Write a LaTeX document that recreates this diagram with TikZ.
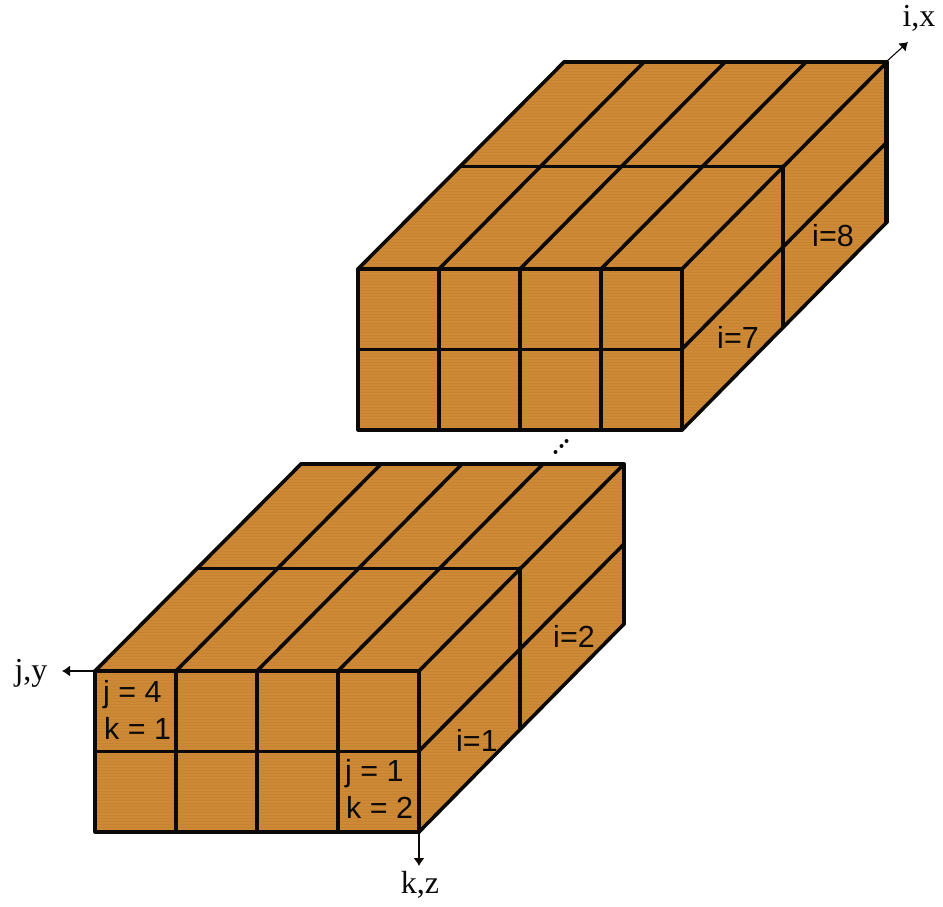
\documentclass[tikz,border=0pt]{standalone}
\usepackage{fontspec}
\setmainfont{Liberation Sans}
\newfontfamily\serifaxis{Liberation Serif}
\usetikzlibrary{arrows.meta}
\definecolor{wood}{RGB}{205,137,54}
\definecolor{woodline}{RGB}{188,122,46}
\definecolor{ink}{RGB}{12,10,8}
\tikzset{
  x=1pt,y=-1pt,
  grid/.style={draw=ink,line width=3.2pt,line cap=round,line join=round},
  slantgrid/.style={draw=ink,line width=3.6pt,line cap=round,line join=round},
  thingrid/.style={draw=ink,line width=3pt,line cap=round,line join=round},
  axisline/.style={draw=ink,line width=1.1pt,-{Latex[length=8pt,width=11pt]}},
  celllabel/.style={font=\fontsize{30.5}{33}\selectfont,text=ink,inner sep=0pt},
  axislabel/.style={font=\serifaxis\fontsize{32}{36}\selectfont,text=ink,inner sep=0pt},
}
% #1,#2 = front top-left corner of a block
\newcommand{\woodblock}[2]{%
  \begin{scope}[shift={(#1,#2)}]
    \begin{scope}
      \clip (0,0) -- (206,-207) -- (529,-207) -- (529,-47) -- (324,161) -- (0,161) -- cycle;
      \fill[wood] (-5,-215) rectangle (535,170);
      \foreach \yy in {-213,-210,...,168} {\draw[woodline,line width=0.5pt,opacity=0.4] (-5,\yy) -- (535,\yy);}
    \end{scope}
    \foreach \xx in {81,162,243} {\draw[grid] (\xx,0) -- (\xx,161);}
    \draw[thingrid] (0,80) -- (324,80);
    \draw[grid] (0,0) rectangle (324,161);
    \draw[slantgrid] (0,0) -- (206,-207);
    \draw[grid] (206,-207) -- (529,-207) -- (529,-47);
    \draw[slantgrid] (529,-47) -- (324,161);
    \foreach \xx in {81,162,243,324} {\draw[slantgrid] (\xx,0) -- (\xx+205,-207);}
    \draw[slantgrid] (324,80) -- (529,-127);
    \draw[thingrid] (103,-103) -- (425,-103);
    \draw[grid] (425,-103) -- (425,58);
  \end{scope}}
\begin{document}
\begin{tikzpicture}
\useasboundingbox (0,0) rectangle (943,906);
\woodblock{358}{269}
\woodblock{95}{671}
\draw[ink,line width=4.2pt] (886,62) -- (886,222);
% axes
\coordinate (xstart) at (886,62);
\coordinate (xend) at (908,42);
\coordinate (ystart) at (95,671);
\coordinate (yend) at (62,671);
\coordinate (zstart) at (419,832);
\coordinate (zend) at (419,866);
\draw[axisline] (xstart) -- (xend);
\draw[axisline] (ystart) -- (yend);
\draw[axisline] (zstart) -- (zend);
\node[axislabel] (ix) at (919,18) {i,x};
\node[axislabel] (jy) at (31,673) {j,y};
\node[axislabel] (kz) at (420,885) {k,z};
% cell labels
\node[celllabel,anchor=base west] (j4) at (103,702) {j = 4};
\node[celllabel,anchor=base west] (k1) at (104,739) {k = 1};
\node[celllabel,anchor=base west] (j1) at (345,781) {j = 1};
\node[celllabel,anchor=base west] (k2) at (346,818) {k = 2};
\node[celllabel] (i1) at (477,740) {i=1};
\node[celllabel] (i2) at (574,636) {i=2};
\node[celllabel] (i7) at (738,337) {i=7};
\node[celllabel] (i8) at (833,236) {i=8};
% dots
\fill[ink] (555.5,452) circle (2pt) (561.5,446) circle (2pt) (566.5,441) circle (2pt);
\end{tikzpicture}
\end{document}
